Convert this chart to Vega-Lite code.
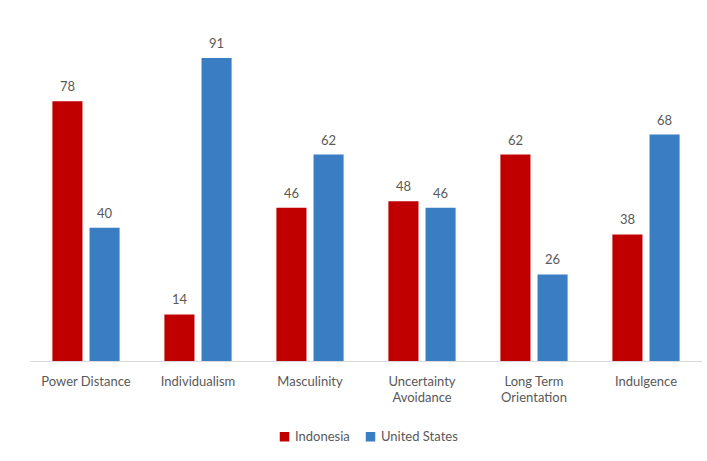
{
  "$schema": "https://vega.github.io/schema/vega-lite/v6.json",
  "width": 672,
  "height": 333,
  "autosize": "none",
  "padding": {"left": 30, "top": 28, "right": 5, "bottom": 100},
  "background": "white",
  "config": {"view": {"stroke": null}, "font": "Lato"},
  "data": {
    "values": [
      {"dimension": "Power Distance", "country": "Indonesia", "score": 78},
      {"dimension": "Power Distance", "country": "United States", "score": 40},
      {"dimension": "Individualism", "country": "Indonesia", "score": 14},
      {"dimension": "Individualism", "country": "United States", "score": 91},
      {"dimension": "Masculinity", "country": "Indonesia", "score": 46},
      {"dimension": "Masculinity", "country": "United States", "score": 62},
      {"dimension": "Uncertainty Avoidance", "country": "Indonesia", "score": 48},
      {"dimension": "Uncertainty Avoidance", "country": "United States", "score": 46},
      {"dimension": "Long Term Orientation", "country": "Indonesia", "score": 62},
      {"dimension": "Long Term Orientation", "country": "United States", "score": 26},
      {"dimension": "Indulgence", "country": "Indonesia", "score": 38},
      {"dimension": "Indulgence", "country": "United States", "score": 68}
    ]
  },
  "encoding": {
    "x": {
      "field": "dimension",
      "type": "nominal",
      "sort": null,
      "scale": {"paddingInner": 0.4, "paddingOuter": 0.2},
      "axis": {
        "title": null,
        "labelAngle": 0,
        "labelFontSize": 13,
        "labelColor": "#595959",
        "labelPadding": 14,
        "ticks": false,
        "domainColor": "#d9d9d9",
        "labelExpr": "datum.label == 'Uncertainty Avoidance' ? ['Uncertainty','Avoidance'] : datum.label == 'Long Term Orientation' ? ['Long Term','Orientation'] : datum.label",
        "labelLineHeight": 16
      }
    },
    "xOffset": {"field": "country", "type": "nominal", "scale": {"paddingInner": 0.19}},
    "y": {"field": "score", "type": "quantitative", "scale": {"domain": [0, 100]}, "axis": null}
  },
  "layer": [
    {
      "mark": {"type": "bar"},
      "encoding": {
        "color": {
          "field": "country",
          "type": "nominal",
          "scale": {"domain": ["Indonesia", "United States"], "range": ["#c00000", "#3b7dc3"]},
          "legend": {
            "title": null,
            "orient": "none",
            "direction": "horizontal",
            "legendX": 248,
            "legendY": 402,
            "symbolType": "square",
            "symbolSize": 90,
            "labelFontSize": 13,
            "labelColor": "#595959",
            "columnPadding": 14,
            "labelOffset": 4
          }
        }
      }
    },
    {
      "mark": {"type": "text", "dy": -14, "fontSize": 13, "color": "#595959"},
      "encoding": {"text": {"field": "score", "type": "quantitative"}}
    }
  ]
}
